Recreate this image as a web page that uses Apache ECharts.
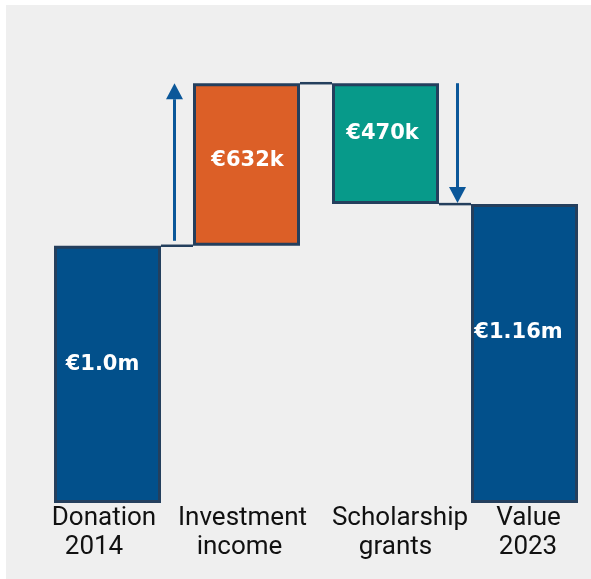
<!DOCTYPE html>
<html>
<head>
  <meta charset="UTF-8">
  <title>Scholarship fund waterfall</title>
  <script src="https://cdn.jsdelivr.net/npm/echarts@6/dist/echarts.min.js"></script>
  <style>
    html, body {
      margin: 0;
      padding: 0;
      width: 100%;
      height: 100%;
      background: #ffffff;
      overflow: hidden;
    }
    .panel {
      position: absolute;
      left: 6px;
      top: 5px;
      right: 0;
      bottom: 0;
      background: #efefef;
    }
    #main {
      position: absolute;
      left: 0;
      top: 0;
      width: 591px;
      height: 579px;
    }
  </style>
</head>
<body>
  <div class="panel"></div>
  <div id="main"></div>
  <script>
    const categories = ['Donation\n2014', 'Investment\nincome', 'Scholarship\ngrants', 'Value\n2023'];
    // values in € millions
    const baseValues = [0, 1.0, 1.162, 0];
    const barValues = [1.0, 0.632, 0.470, 1.162];
    const valueLabels = ['€1.0m', '€632k', '€470k', '€1.16m'];
    const barColors = ['#02508b', '#dc5f27', '#079a8a', '#02508b'];
    // running total after each step, drawn as connectors
    const connectors = [[0, 1.0], [1, 1.632], [2, 1.162]];
    // [category, from, to]
    const arrows = [[0, 1.0, 1.632], [2, 1.632, 1.162]];

    const labelOffsets = [[-5, -10], [1, -4], [-3, -10], [-6, -21]];
    const BAR_W = 107;
    const EDGE = '#243f5d';
    const ARROW = '#0b5799';

    const chart = echarts.init(document.getElementById('main'));

    // per-category shifts of the axis text (left pad / right pad)
    const axisRich = {
      a0: { padding: [0, 7, 0, 0] },  b0: { padding: [0, 27, 0, 0] },
      a1: { padding: [0, 8, 0, 0] },  b1: { padding: [0, 14, 0, 0] },
      a2: { padding: [0, 0, 0, 29] }, b2: { padding: [0, 0, 0, 20] },
      a3: { padding: [0, 0, 0, 8] },  b3: { padding: [0, 0, 0, 7] }
    };
    Object.keys(axisRich).forEach(k => {
      Object.assign(axisRich[k], {
        fontFamily: 'Roboto', fontSize: 26, lineHeight: 29, color: '#111'
      });
    });

    const option = {
      animation: false,
      grid: {
        left: 38,
        top: 40,
        width: 556,
        bottom: 76,
        outerBoundsMode: 'none'
      },
      xAxis: {
        type: 'category',
        data: categories,
        axisLine: { show: false },
        axisTick: { show: false },
        axisLabel: {
          interval: 0,
          margin: 1,
          formatter: function (val, idx) {
            const parts = val.split('\n');
            return `{a${idx}|${parts[0]}}\n{b${idx}|${parts[1]}}`;
          },
          rich: axisRich
        }
      },
      yAxis: {
        type: 'value',
        min: 0,
        max: 1.8,
        show: false
      },
      series: [
        {
          type: 'custom',
          z: 1,
          silent: true,
          data: connectors,
          renderItem: function (params, api) {
            const a = api.coord([api.value(0), api.value(1)]);
            const b = api.coord([api.value(0) + 1, api.value(1)]);
            return {
              type: 'line',
              shape: { x1: a[0] + BAR_W / 2, y1: a[1], x2: b[0] - BAR_W / 2, y2: b[1] },
              style: { stroke: EDGE, lineWidth: 2.5 }
            };
          }
        },
        {
          name: 'base',
          type: 'bar',
          stack: 'w',
          z: 2,
          barWidth: BAR_W,
          silent: true,
          itemStyle: { color: 'transparent' },
          data: baseValues
        },
        {
          name: 'value',
          type: 'bar',
          stack: 'w',
          z: 2,
          barWidth: BAR_W,
          data: barValues.map((v, i) => ({
            value: v,
            itemStyle: { color: barColors[i] },
            label: { offset: labelOffsets[i] }
          })),
          itemStyle: { borderColor: EDGE, borderWidth: 3 },
          label: {
            show: true,
            position: 'inside',
            color: '#ffffff',
            fontFamily: 'DejaVu Sans',
            fontWeight: 'bold',
            fontSize: 21,
            formatter: p => valueLabels[p.dataIndex]
          }
        },
        {
          type: 'custom',
          z: 3,
          silent: true,
          data: arrows,
          renderItem: function (params, api) {
            const cat = api.value(0);
            const from = api.coord([cat, api.value(1)]);
            const to = api.coord([cat, api.value(2)]);
            const band = api.size([1, 0])[0];
            const up = to[1] < from[1];
            const x = from[0] + band / 2 + (up ? -2.5 : 2.5);
            const y0 = up ? from[1] - 5 : from[1];
            const y1 = up ? to[1] : to[1] - 1;
            const head = 16;
            const hw = 8.5;
            const dir = up ? 1 : -1;
            return {
              type: 'group',
              children: [
                {
                  type: 'line',
                  shape: { x1: x, y1: y0, x2: x, y2: y1 + dir * head },
                  style: { stroke: ARROW, lineWidth: 3 }
                },
                {
                  type: 'polygon',
                  shape: { points: [[x, y1], [x - hw, y1 + dir * head], [x + hw, y1 + dir * head]] },
                  style: { fill: ARROW }
                }
              ]
            };
          }
        }
      ]
    };

    chart.setOption(option);
    window.addEventListener('resize', () => chart.resize());
  </script>
</body>
</html>
